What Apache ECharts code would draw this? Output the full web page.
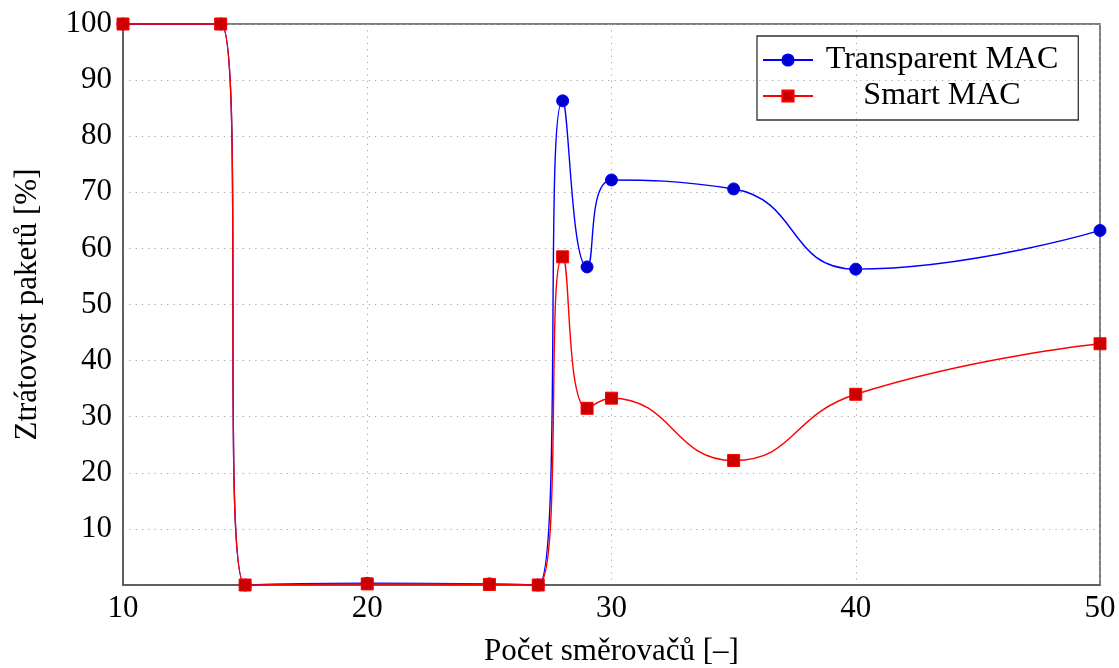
<!DOCTYPE html>
<html><head><meta charset="utf-8">
<script src="https://cdn.jsdelivr.net/npm/echarts@6/dist/echarts.min.js"></script>
<style>html,body{margin:0;padding:0;background:#fff}#c{width:1119px;height:668px}</style>
</head><body><div id="c"></div>
<script>
const xValues = [10, 14, 15, 20, 25, 27, 28, 29, 30, 35, 40, 50];
const transparentMAC = [100, 100, 0, 0.3, 0.2, 0, 86.3, 56.7, 72.2, 70.6, 56.3, 63.2];
const smartMAC = [100, 100, 0, 0.2, 0.1, 0, 58.5, 31.5, 33.3, 22.2, 34.0, 43.0];
const seriesNames = ['Transparent MAC', 'Smart MAC'];
const xTicks = [10, 20, 30, 40, 50];
const yTicks = [10, 20, 30, 40, 50, 60, 70, 80, 90, 100];

const font = '"Liberation Serif", "DejaVu Serif", serif';
const pair = (ys) => xValues.map((x, i) => [x, ys[i]]);
const chart = echarts.init(document.getElementById('c'));
const gridLine = { show: true, lineStyle: { color: '#aaa', width: 1, type: [1.3, 5] } };
chart.setOption({
  animation: false,
  grid: { left: 123, right: 19, top: 24, bottom: 83, show: true, borderColor: '#555', borderWidth: 1.5,
    backgroundColor: 'transparent', containLabel: false, outerBoundsMode: 'none' },
  legend: {
    orient: 'vertical', left: 757, top: 36,
    borderColor: '#333', borderWidth: 1.3, padding: [8, 20, 8, 5],
    itemWidth: 50, itemHeight: 14, itemGap: 4,
    data: seriesNames,
    formatter: '{a|{name}}',
    textStyle: { fontFamily: font, fontSize: 32, color: '#000',
      rich: { a: { width: 248, height: 37, align: 'center', fontFamily: font, fontSize: 32, color: '#000' } } }
  },
  xAxis: {
    type: 'value', min: 10, max: 50, interval: 10,
    name: 'Počet směrovačů [–]', nameLocation: 'middle', nameGap: 51,
    nameTextStyle: { fontFamily: font, fontSize: 31, color: '#000' },
    axisLine: { show: true, lineStyle: { color: '#555', width: 1.5 } },
    axisTick: { show: false },
    axisLabel: { fontFamily: font, fontSize: 31, color: '#000', margin: 8,
      formatter: v => xTicks.includes(v) ? String(v) : '' },
    splitLine: gridLine
  },
  yAxis: {
    type: 'value', min: 0, max: 100, interval: 10,
    name: 'Ztrátovost paketů [%]', nameLocation: 'middle', nameGap: 80,
    nameTextStyle: { fontFamily: font, fontSize: 31, color: '#000' },
    axisLine: { show: true, lineStyle: { color: '#555', width: 1.5 } },
    axisTick: { show: false },
    axisLabel: { fontFamily: font, fontSize: 31, color: '#000', margin: 11,
      formatter: v => yTicks.includes(v) ? String(v) : '' },
    splitLine: gridLine
  },
  series: [
    { name: seriesNames[0], type: 'line', data: pair(transparentMAC), smooth: 0.5,
      symbol: 'circle', symbolSize: 12,
      lineStyle: { color: '#0000ff', width: 1.4 },
      itemStyle: { color: '#0000cc', borderColor: '#0000ff', borderWidth: 1 } },
    { name: seriesNames[1], type: 'line', data: pair(smartMAC), smooth: 0.5,
      symbol: 'rect', symbolSize: 12,
      lineStyle: { color: '#ff0000', width: 1.4 },
      itemStyle: { color: '#cc0000', borderColor: '#ff0000', borderWidth: 1 } }
  ]
});
</script></body></html>
